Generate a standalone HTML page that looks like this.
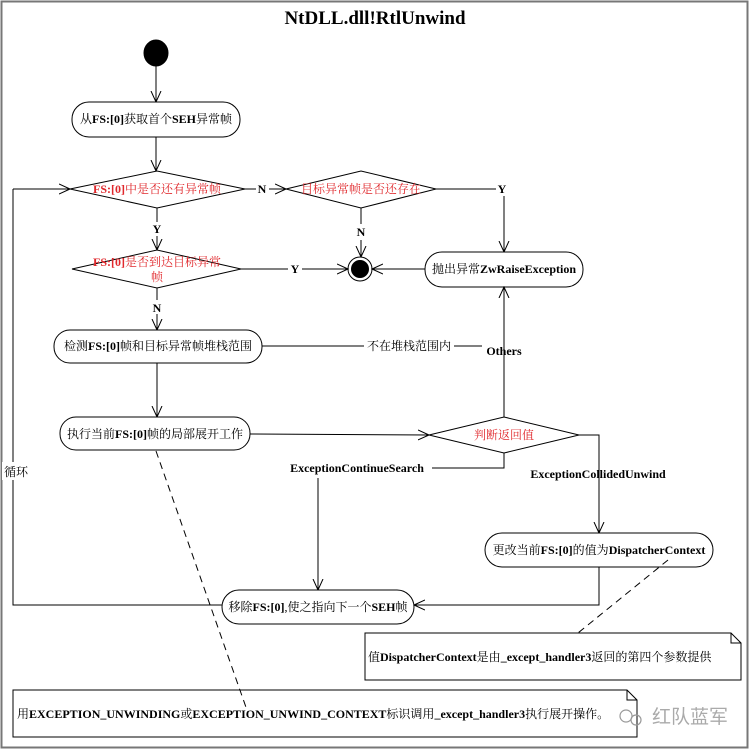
<!DOCTYPE html>
<html><head><meta charset="utf-8"><style>
html,body{margin:0;padding:0;background:#fff;}
svg{display:block;}
text{font-family:"Liberation Serif","Noto Serif CJK SC",serif;font-size:12px;fill:#000;}
.b{font-weight:bold;}
.r{fill:#e0282c;}
</style></head><body>
<svg width="751" height="750" viewBox="0 0 751 750" xmlns="http://www.w3.org/2000/svg">
<defs>
<marker id="a" markerWidth="12" markerHeight="12" refX="11" refY="6" orient="auto" markerUnits="userSpaceOnUse">
<path d="M0,1 L11,6 L0,11" fill="none" stroke="#000" stroke-width="1"/></marker>
</defs>
<rect x="1.5" y="1.5" width="746" height="746" fill="#fff" stroke="#777" stroke-width="2"/>
<text x="375" y="24" text-anchor="middle" class="b" style="font-size:19px">NtDLL.dll!RtlUnwind</text>
<g stroke="#000" fill="none" stroke-width="1">
<ellipse cx="156" cy="53" rx="12" ry="13" fill="#000"/>
<line x1="156" y1="66" x2="156" y2="102" marker-end="url(#a)"/>
<rect x="72" y="102" width="168" height="35" rx="17" fill="#fff"/>
<line x1="156" y1="137" x2="156" y2="171" marker-end="url(#a)"/>
<polygon points="70,189 157,171 245,189 157,208" fill="#fff"/>
<polyline points="13,189 13,605 222,605" />
<line x1="13" y1="189" x2="70" y2="189" marker-end="url(#a)"/>
<line x1="245" y1="189" x2="256" y2="189"/>
<line x1="269" y1="189" x2="286" y2="189" marker-end="url(#a)"/>
<polygon points="286,189 361,171 436,189 361,208" fill="#fff"/>
<polyline points="436,189 496,189"/>
<line x1="504" y1="196" x2="504" y2="252" marker-end="url(#a)"/>
<line x1="361" y1="208" x2="361" y2="224"/>
<line x1="361" y1="240" x2="361" y2="257" marker-end="url(#a)"/>
<circle cx="360" cy="269" r="12" fill="#fff"/>
<circle cx="360" cy="269" r="8.5" fill="#000"/>
<line x1="157" y1="208" x2="157" y2="222"/>
<line x1="157" y1="236" x2="157" y2="250" marker-end="url(#a)"/>
<polygon points="72,269 157,250 241,269 157,288" fill="#fff"/>
<line x1="241" y1="269" x2="288" y2="269"/>
<line x1="302" y1="269" x2="348" y2="269" marker-end="url(#a)"/>
<rect x="425" y="252" width="158" height="35" rx="17" fill="#fff"/>
<line x1="425" y1="269" x2="372" y2="269" marker-end="url(#a)"/>
<line x1="157" y1="288" x2="157" y2="300"/>
<line x1="157" y1="314" x2="157" y2="330" marker-end="url(#a)"/>
<rect x="54" y="330" width="208" height="33" rx="16" fill="#fff"/>
<line x1="262" y1="346" x2="364" y2="346"/>
<line x1="454" y1="346" x2="482" y2="346"/>
<line x1="504" y1="417" x2="504" y2="287" marker-end="url(#a)"/>
<line x1="157" y1="363" x2="157" y2="417" marker-end="url(#a)"/>
<rect x="60" y="417" width="190" height="33" rx="16" fill="#fff"/>
<line x1="250" y1="434" x2="429" y2="435" marker-end="url(#a)"/>
<polygon points="429,435 504,417 579,435 504,453" fill="#fff"/>
<polyline points="579,435 599,435 599,533" marker-end="url(#a)"/>
<polyline points="504,453 504,468 432,468"/>
<line x1="318" y1="478" x2="318" y2="590" marker-end="url(#a)"/>
<rect x="485" y="533" width="228" height="34" rx="17" fill="#fff"/>
<polyline points="599,567 599,605 414,605" marker-end="url(#a)"/>
<rect x="222" y="590" width="192" height="34" rx="17" fill="#fff"/>
<path d="M365,633 H731 L741,643 V680 H365 Z" fill="#fff"/>
<path d="M731,633 V643 H741"/>
<path d="M13,690 H627 L637,700 V737 H13 Z" fill="#fff"/>
<path d="M627,690 V700 H637"/>
<line x1="156" y1="451" x2="248" y2="713" stroke-dasharray="7,5"/>
<line x1="668" y1="560" x2="578" y2="633" stroke-dasharray="7,5"/>
</g>
<rect x="2" y="462" width="26" height="18" fill="#fff"/>
<text x="16" y="476" text-anchor="middle">循环</text>
<text x="156" y="123" text-anchor="middle">从<tspan class="b">FS:[0]</tspan>获取首个<tspan class="b">SEH</tspan>异常帧</text>
<text x="157" y="193" text-anchor="middle" class="r"><tspan class="b">FS:[0]</tspan>中是否还有异常帧</text>
<text x="262" y="193" text-anchor="middle" class="b">N</text>
<text x="361" y="193" text-anchor="middle" class="r">目标异常帧是否还存在</text>
<text x="502" y="193" text-anchor="middle" class="b">Y</text>
<text x="361" y="236" text-anchor="middle" class="b">N</text>
<text x="157" y="233" text-anchor="middle" class="b">Y</text>
<text x="157" y="266" text-anchor="middle" class="r"><tspan class="b">FS:[0]</tspan>是否到达目标异常</text>
<text x="157" y="281" text-anchor="middle" class="r">帧</text>
<text x="295" y="273" text-anchor="middle" class="b">Y</text>
<text x="504" y="273" text-anchor="middle">抛出异常<tspan class="b">ZwRaiseException</tspan></text>
<text x="157" y="312" text-anchor="middle" class="b">N</text>
<text x="158" y="350" text-anchor="middle">检测<tspan class="b">FS:[0]</tspan>帧和目标异常帧堆栈范围</text>
<text x="409" y="350" text-anchor="middle">不在堆栈范围内</text>
<text x="504" y="355" text-anchor="middle" class="b">Others</text>
<text x="155" y="438" text-anchor="middle">执行当前<tspan class="b">FS:[0]</tspan>帧的局部展开工作</text>
<text x="504" y="439" text-anchor="middle" class="r">判断返回值</text>
<text x="357" y="472" text-anchor="middle" class="b">ExceptionContinueSearch</text>
<text x="598" y="478" text-anchor="middle" class="b">ExceptionCollidedUnwind</text>
<text x="599" y="554" text-anchor="middle">更改当前<tspan class="b">FS:[0]</tspan>的值为<tspan class="b">DispatcherContext</tspan></text>
<text x="318" y="611" text-anchor="middle">移除<tspan class="b">FS:[0]</tspan>,使之指向下一个<tspan class="b">SEH</tspan>帧</text>
<text x="368" y="661">值<tspan class="b">DispatcherContext</tspan>是由<tspan class="b">_except_handler3</tspan>返回的第四个参数提供</text>
<text x="17" y="718">用<tspan class="b">EXCEPTION_UNWINDING</tspan>或<tspan class="b">EXCEPTION_UNWIND_CONTEXT</tspan>标识调用<tspan class="b">_except_handler3</tspan>执行展开操作。</text>
<g stroke="#999" fill="none" stroke-width="1.2">
<circle cx="626" cy="716" r="6"/><circle cx="636" cy="720" r="5"/>
</g>
<text x="652" y="723" style="font-size:19px;fill:#aaa;font-family:'Noto Sans CJK SC',sans-serif">红队蓝军</text>
</svg>
</body></html>
